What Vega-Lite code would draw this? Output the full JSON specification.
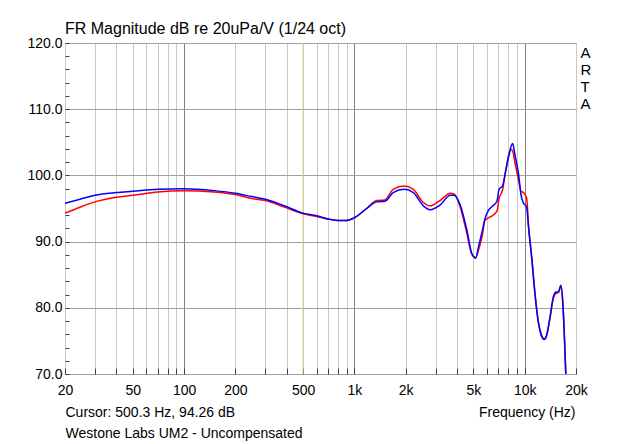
{
  "$schema": "https://vega.github.io/schema/vega-lite/v6.json",
  "width": 511,
  "height": 331,
  "autosize": {"type": "none"},
  "padding": {"left": 65, "top": 43, "right": 64, "bottom": 70},
  "background": "white",
  "config": {"font": "Liberation Sans", "view": {"stroke": "#a0a0a0", "strokeWidth": 1}},
  "title": {"text": "FR Magnitude dB re 20uPa/V (1/24 oct)", "anchor": "start", "frame": "group", "fontSize": 16, "fontWeight": "normal", "color": "black", "offset": -1},
  "resolve": {"axis": {"x": "independent", "y": "independent"}},
  "layer": [
    {
      "data": {"values": [{"f": 500}]},
      "mark": {"type": "rule", "color": "#d9cf7a", "strokeWidth": 1},
      "encoding": {
        "x": {"field": "f", "type": "quantitative", "scale": {"type": "log", "domain": [20, 20000], "nice": false}, "axis": null}
      }
    },
    {
      "data": {"values": [
        {"ch": "Right", "f": 20, "dB": 94.3}, {"ch": "Right", "f": 24.5, "dB": 95.2}, {"ch": "Right", "f": 30, "dB": 96.0}, {"ch": "Right", "f": 40, "dB": 96.7}, {"ch": "Right", "f": 50, "dB": 97.0}, {"ch": "Right", "f": 70, "dB": 97.5}, {"ch": "Right", "f": 100, "dB": 97.7}, {"ch": "Right", "f": 150, "dB": 97.5}, {"ch": "Right", "f": 200, "dB": 97.1}, {"ch": "Right", "f": 250, "dB": 96.5}, {"ch": "Right", "f": 300, "dB": 96.2}, {"ch": "Right", "f": 380, "dB": 95.3}, {"ch": "Right", "f": 500, "dB": 94.2}, {"ch": "Right", "f": 600, "dB": 93.8}, {"ch": "Right", "f": 700, "dB": 93.4}, {"ch": "Right", "f": 800, "dB": 93.2}, {"ch": "Right", "f": 900, "dB": 93.2}, {"ch": "Right", "f": 1000, "dB": 93.6}, {"ch": "Right", "f": 1180, "dB": 95.0}, {"ch": "Right", "f": 1350, "dB": 96.2}, {"ch": "Right", "f": 1510, "dB": 96.3}, {"ch": "Right", "f": 1690, "dB": 97.9}, {"ch": "Right", "f": 1960, "dB": 98.4}, {"ch": "Right", "f": 2220, "dB": 97.9}, {"ch": "Right", "f": 2540, "dB": 95.9}, {"ch": "Right", "f": 2780, "dB": 95.4}, {"ch": "Right", "f": 3180, "dB": 96.2}, {"ch": "Right", "f": 3650, "dB": 97.3}, {"ch": "Right", "f": 3850, "dB": 97.2}, {"ch": "Right", "f": 4170, "dB": 95.3}, {"ch": "Right", "f": 4570, "dB": 91.3}, {"ch": "Right", "f": 4890, "dB": 88.1}, {"ch": "Right", "f": 5150, "dB": 87.6}, {"ch": "Right", "f": 5350, "dB": 88.7}, {"ch": "Right", "f": 5620, "dB": 90.8}, {"ch": "Right", "f": 5850, "dB": 93.2}, {"ch": "Right", "f": 6120, "dB": 93.6}, {"ch": "Right", "f": 6430, "dB": 93.9}, {"ch": "Right", "f": 6870, "dB": 94.6}, {"ch": "Right", "f": 7070, "dB": 96.5}, {"ch": "Right", "f": 7410, "dB": 97.8}, {"ch": "Right", "f": 7720, "dB": 100.6}, {"ch": "Right", "f": 8100, "dB": 103.3}, {"ch": "Right", "f": 8320, "dB": 103.9}, {"ch": "Right", "f": 8490, "dB": 103.7}, {"ch": "Right", "f": 8780, "dB": 101.8}, {"ch": "Right", "f": 9200, "dB": 99.3}, {"ch": "Right", "f": 9520, "dB": 97.6}, {"ch": "Right", "f": 9850, "dB": 97.4}, {"ch": "Right", "f": 10260, "dB": 96.6}, {"ch": "Right", "f": 10540, "dB": 92.3}, {"ch": "Right", "f": 11000, "dB": 87.5}, {"ch": "Right", "f": 11500, "dB": 82.0}, {"ch": "Right", "f": 12030, "dB": 77.8}, {"ch": "Right", "f": 12600, "dB": 75.8}, {"ch": "Right", "f": 13000, "dB": 75.3}, {"ch": "Right", "f": 13480, "dB": 76.0}, {"ch": "Right", "f": 14090, "dB": 78.5}, {"ch": "Right", "f": 14740, "dB": 81.5}, {"ch": "Right", "f": 15280, "dB": 82.2}, {"ch": "Right", "f": 15770, "dB": 82.3}, {"ch": "Right", "f": 16290, "dB": 83.2}, {"ch": "Right", "f": 16730, "dB": 80.9}, {"ch": "Right", "f": 17030, "dB": 77.0}, {"ch": "Right", "f": 17260, "dB": 73.0}, {"ch": "Right", "f": 17500, "dB": 69.0},
        {"ch": "Left", "f": 20, "dB": 95.8}, {"ch": "Left", "f": 24.5, "dB": 96.4}, {"ch": "Left", "f": 30, "dB": 97.0}, {"ch": "Left", "f": 40, "dB": 97.4}, {"ch": "Left", "f": 50, "dB": 97.6}, {"ch": "Left", "f": 70, "dB": 97.9}, {"ch": "Left", "f": 100, "dB": 98.0}, {"ch": "Left", "f": 150, "dB": 97.7}, {"ch": "Left", "f": 200, "dB": 97.3}, {"ch": "Left", "f": 250, "dB": 96.8}, {"ch": "Left", "f": 300, "dB": 96.4}, {"ch": "Left", "f": 380, "dB": 95.5}, {"ch": "Left", "f": 500, "dB": 94.3}, {"ch": "Left", "f": 600, "dB": 93.9}, {"ch": "Left", "f": 700, "dB": 93.4}, {"ch": "Left", "f": 800, "dB": 93.2}, {"ch": "Left", "f": 900, "dB": 93.2}, {"ch": "Left", "f": 1000, "dB": 93.6}, {"ch": "Left", "f": 1180, "dB": 95.0}, {"ch": "Left", "f": 1350, "dB": 96.0}, {"ch": "Left", "f": 1510, "dB": 96.1}, {"ch": "Left", "f": 1690, "dB": 97.4}, {"ch": "Left", "f": 1960, "dB": 97.9}, {"ch": "Left", "f": 2220, "dB": 97.4}, {"ch": "Left", "f": 2540, "dB": 95.4}, {"ch": "Left", "f": 2780, "dB": 94.8}, {"ch": "Left", "f": 3180, "dB": 95.5}, {"ch": "Left", "f": 3650, "dB": 97.0}, {"ch": "Left", "f": 3850, "dB": 97.0}, {"ch": "Left", "f": 4170, "dB": 95.6}, {"ch": "Left", "f": 4570, "dB": 91.8}, {"ch": "Left", "f": 4890, "dB": 88.2}, {"ch": "Left", "f": 5150, "dB": 87.5}, {"ch": "Left", "f": 5350, "dB": 89.2}, {"ch": "Left", "f": 5620, "dB": 91.5}, {"ch": "Left", "f": 5850, "dB": 93.5}, {"ch": "Left", "f": 6120, "dB": 94.7}, {"ch": "Left", "f": 6430, "dB": 95.3}, {"ch": "Left", "f": 6870, "dB": 96.1}, {"ch": "Left", "f": 7070, "dB": 97.9}, {"ch": "Left", "f": 7410, "dB": 98.4}, {"ch": "Left", "f": 7720, "dB": 100.6}, {"ch": "Left", "f": 8100, "dB": 103.2}, {"ch": "Left", "f": 8320, "dB": 104.4}, {"ch": "Left", "f": 8490, "dB": 104.8}, {"ch": "Left", "f": 8780, "dB": 103.0}, {"ch": "Left", "f": 9200, "dB": 100.2}, {"ch": "Left", "f": 9520, "dB": 97.0}, {"ch": "Left", "f": 9850, "dB": 95.8}, {"ch": "Left", "f": 10260, "dB": 95.2}, {"ch": "Left", "f": 10540, "dB": 92.0}, {"ch": "Left", "f": 11000, "dB": 87.5}, {"ch": "Left", "f": 11500, "dB": 82.0}, {"ch": "Left", "f": 12030, "dB": 77.8}, {"ch": "Left", "f": 12600, "dB": 75.6}, {"ch": "Left", "f": 13000, "dB": 75.2}, {"ch": "Left", "f": 13480, "dB": 75.9}, {"ch": "Left", "f": 14090, "dB": 78.7}, {"ch": "Left", "f": 14740, "dB": 81.7}, {"ch": "Left", "f": 15280, "dB": 82.4}, {"ch": "Left", "f": 15770, "dB": 82.4}, {"ch": "Left", "f": 16290, "dB": 83.4}, {"ch": "Left", "f": 16730, "dB": 80.7}, {"ch": "Left", "f": 17030, "dB": 76.6}, {"ch": "Left", "f": 17260, "dB": 72.6}, {"ch": "Left", "f": 17500, "dB": 68.5}
      ]},
      "mark": {"type": "line", "interpolate": "monotone", "strokeWidth": 1.5, "clip": true},
      "encoding": {
        "x": {"field": "f", "type": "quantitative", "scale": {"type": "log", "domain": [20, 20000], "nice": false},
          "axis": {"orient": "bottom", "values": [20,30,40,50,60,70,80,90,100,200,300,400,500,600,700,800,900,1000,2000,3000,4000,5000,6000,7000,8000,9000,10000,20000],
            "labelExpr": "indexof([20,50,100,200,500,1000,2000,5000,10000,20000], datum.value) >= 0 ? (datum.value >= 1000 ? (datum.value/1000) + 'k' : '' + datum.value) : ''",
            "labelFlush": false, "labelOverlap": false, "labelBound": false, "labelFontSize": 14, "labelColor": "black", "labelPadding": 15,
            "tickSize": -6, "tickColor": "#404040", "domain": false, "grid": true,
            "gridColor": {"condition": {"test": "datum.value == 100 || datum.value == 1000 || datum.value == 10000", "value": "#808080"}, "value": "#c8c8c8"},
            "title": "Frequency (Hz)", "titleFontSize": 14, "titleFontWeight": "normal", "titleColor": "black", "titleAlign": "right", "titleAnchor": "end", "titleBaseline": "alphabetic", "titleX": 510, "titleY": 42}},
        "y": {"field": "dB", "type": "quantitative", "scale": {"domain": [70, 120], "nice": false, "zero": false},
          "axis": {"orient": "left", "values": [70,72,74,76,78,80,82,84,86,88,90,92,94,96,98,100,102,104,106,108,110,112,114,116,118,120],
            "labelExpr": "datum.value % 10 == 0 ? format(datum.value, '.1f') : ''",
            "labelFontSize": 14, "labelColor": "black", "labelPadding": 7, "labelOverlap": false, "labelFlush": false,
            "tickSize": -4, "tickColor": "#404040", "domain": false, "grid": true, "gridColor": "#a0a0a0",
            "gridOpacity": {"condition": {"test": "datum.value % 10 == 0", "value": 1}, "value": 0},
            "title": null}},
        "color": {"field": "ch", "type": "nominal", "scale": {"domain": ["Right", "Left"], "range": ["#ff0000", "#0000ff"]}, "legend": null}
      }
    },
    {
      "data": {"values": [{"f": 1000, "dB": 100}]},
      "mark": {"type": "point", "opacity": 0},
      "encoding": {
        "x": {"field": "f", "type": "quantitative", "scale": {"type": "log", "domain": [20, 20000], "nice": false},
          "axis": {"orient": "bottom", "labels": false, "ticks": false, "domain": false, "grid": false,
            "title": ["Cursor: 500.3 Hz, 94.26 dB", "Westone Labs UM2 - Uncompensated"], "titleFontSize": 14, "titleFontWeight": "normal", "titleColor": "black",
            "titleAlign": "left", "titleAnchor": "start", "titleBaseline": "alphabetic", "titleX": 0, "titleY": 42, "titleLineHeight": 21}},
        "y": {"field": "dB", "type": "quantitative", "scale": {"domain": [70, 120], "nice": false, "zero": false},
          "axis": {"orient": "right", "labels": false, "ticks": false, "domain": false, "grid": false,
            "title": ["A", "R", "T", "A"], "titleAngle": 0, "titleFontSize": 15, "titleFontWeight": "normal", "titleColor": "black",
            "titleAlign": "left", "titleBaseline": "alphabetic", "titleX": 4, "titleY": 14, "titleLineHeight": 17}}
      }
    }
  ]
}
